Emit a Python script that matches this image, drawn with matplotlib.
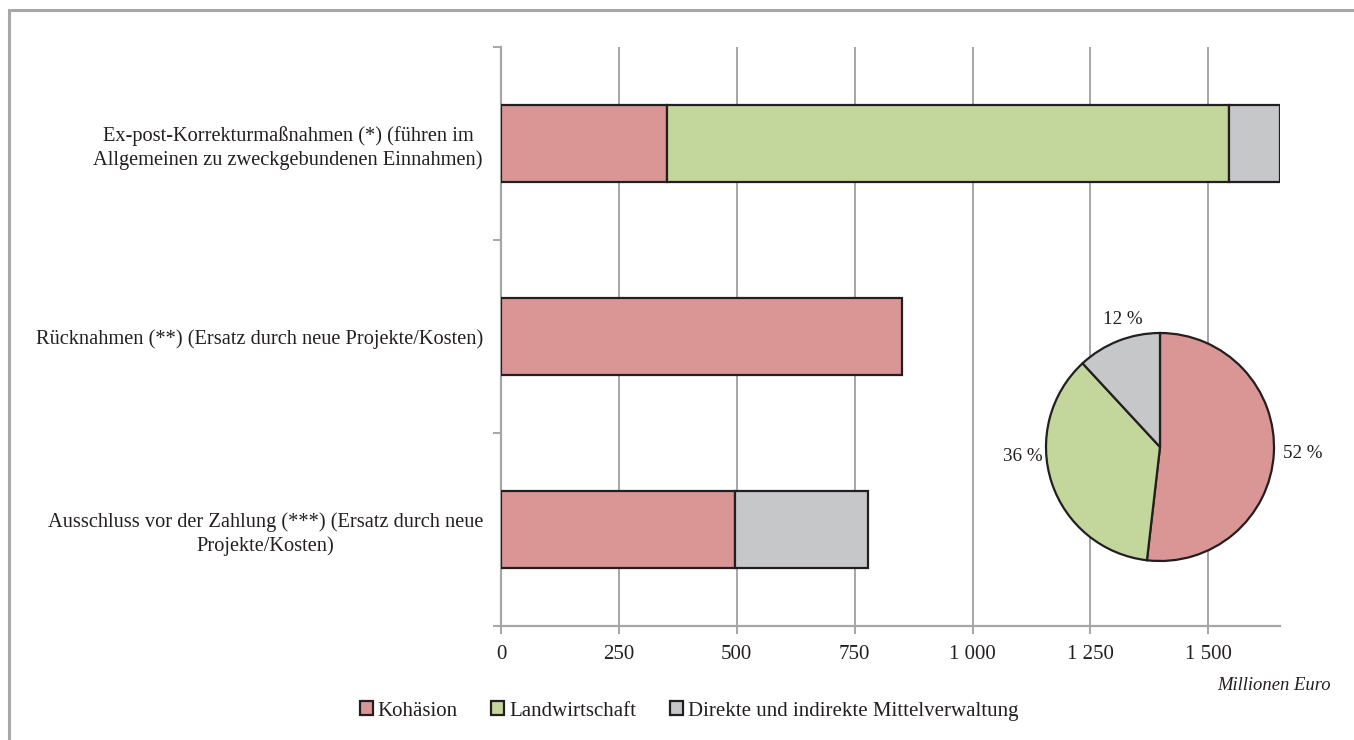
import matplotlib
matplotlib.use("Agg")
import matplotlib.pyplot as plt
from matplotlib.patches import Rectangle, Patch
import numpy as np

# Categories (top to bottom) and amounts in million euro
categories = [
    "Ex-post-Korrekturmaßnahmen (*) (führen im\nAllgemeinen zu zweckgebundenen Einnahmen)",
    "Rücknahmen (**) (Ersatz durch neue Projekte/Kosten)",
    "Ausschluss vor der Zahlung (***) (Ersatz durch neue\nProjekte/Kosten)",
]
kohaesion = [353, 851, 497]
landwirtschaft = [1191, 0, 0]
mittelverwaltung = [108, 0, 282]

series_names = ["Kohäsion", "Landwirtschaft", "Direkte und indirekte Mittelverwaltung"]
colors = ["#d99694", "#c3d69b", "#c6c7c9"]
xticks = [0, 250, 500, 750, 1000, 1250, 1500]
xlabel = "Millionen Euro"

EDGE = "#231f20"
GRID = "#a6a6a8"
TEXT = "#231f20"

plt.rcParams["font.family"] = ["Liberation Serif", "DejaVu Serif"]
plt.rcParams["text.color"] = TEXT

W, H = 1354, 740
fig = plt.figure(figsize=(W / 100, H / 100), dpi=100)

# outer frame
fig.patches.append(Rectangle((9 / W, -0.1), 2, 1.1 - 10 / H,
                             transform=fig.transFigure, fill=False,
                             edgecolor="#a7a7a9", linewidth=2.2, zorder=0))

ax = fig.add_axes([501 / W, 1 - 626 / H, (1280 - 501) / W, (626 - 47) / H])

y = np.arange(len(categories))
bar_h = 0.395
left = np.zeros(len(categories))
for vals, name, col in zip([kohaesion, landwirtschaft, mittelverwaltung], series_names, colors):
    vals = np.asarray(vals, dtype=float)
    mask = vals > 0
    ax.barh(y[mask], vals[mask], left=left[mask], height=bar_h, color=col,
            edgecolor=EDGE, linewidth=1.6, label=name, zorder=3)
    left += vals

total_bar = max(left)
ax.set_xlim(0, total_bar)
ax.set_ylim(len(categories) - 0.5, -0.5)

ax.set_xticks(xticks)
ax.set_xticklabels([f"{v:,}".replace(",", " ") for v in xticks])
ax.tick_params(axis="x", length=6, width=1.4, color=GRID, labelsize=15,
               labelcolor=TEXT, pad=8)

ax.set_yticks(y)
ax.set_yticklabels(categories, fontsize=14.7, color=TEXT, ha="right",
                   multialignment="center", linespacing=1.3)
ax.tick_params(axis="y", which="major", length=0, pad=13)
ax.set_yticks(np.arange(-0.5, len(categories)), minor=True)
ax.tick_params(axis="y", which="minor", length=6, width=1.4, color=GRID)

ax.grid(axis="x", color=GRID, linewidth=1.4, zorder=0)
for s in ["top", "right"]:
    ax.spines[s].set_visible(False)
for s in ["left", "bottom"]:
    ax.spines[s].set_color(GRID)
    ax.spines[s].set_linewidth(1.6)
ax.set_axisbelow(True)

fig.text(1331 / W, 1 - 686 / H, xlabel, ha="right", va="center",
         fontsize=13.4, style="italic", color=TEXT)

# legend
handles = [Patch(facecolor=c, edgecolor=EDGE, linewidth=1.6) for c in colors]
fig.legend(handles, series_names, loc="center", bbox_to_anchor=(689 / W, 1 - 711 / H),
           ncol=3, frameon=False, fontsize=15, handlelength=0.62, handleheight=0.62,
           handletextpad=0.25, columnspacing=1.6)

# pie of totals per series
totals = [sum(kohaesion), sum(landwirtschaft), sum(mittelverwaltung)]
shares = np.array(totals) / sum(totals)
R = 114
pax = fig.add_axes([(1160 - R) / W, 1 - (447 + R) / H, 2 * R / W, 2 * R / H])
wedges, _ = pax.pie(totals, colors=colors, startangle=90, counterclock=False,
                    wedgeprops=dict(edgecolor=EDGE, linewidth=1.6))
pax.set_xlim(-1, 1)
pax.set_ylim(-1, 1)
pax.set_aspect("equal")
for w, share in zip(wedges, shares):
    ang = np.deg2rad((w.theta1 + w.theta2) / 2)
    cx, cy = np.cos(ang), np.sin(ang)
    txt = f"{round(share * 100):d} %"
    if abs(cx) < 0.5:
        pax.text(0.9 * cx, 1.2 * cy, txt, ha="center", va="center", fontsize=13.7)
    else:
        pax.text(1.08 * cx, np.clip(cy, -0.08, 0.08), txt,
                 ha="left" if cx > 0 else "right", va="center", fontsize=13.7)

fig.savefig("out.png", dpi=100)
